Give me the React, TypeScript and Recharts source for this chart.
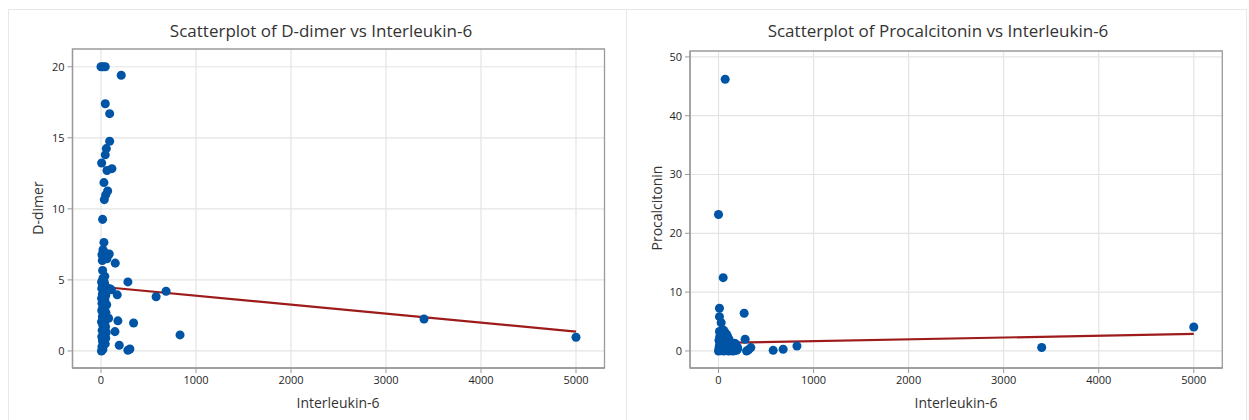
import React from 'react';
import { ScatterChart, Scatter, XAxis, YAxis, ZAxis, CartesianGrid, ReferenceLine, ReferenceArea } from 'recharts';

// ---- Data: D-dimer vs Interleukin-6 ----
const il6A = [
  0, 20, 45, 213, 45, 91, 91, 56, 45, 7, 63, 115, 31, 70, 49, 35, 17,
  31, 21, 10, 45, 87, 14, 63, 150, 17, 283, 171, 580, 685, 178, 343, 147, 832, 192, 283, 304, 98, 80, 3400, 5000,
  5, 20, 10, 30, 45, 15, 35, 50, 8, 25, 40, 55, 12, 30, 48, 18, 38, 5, 28, 60, 14, 42, 22, 52, 8, 34, 18, 46, 60, 10,
  28, 40, 6, 22, 50, 14, 32, 60, 75, 90, 8, 24, 44, 16, 36, 6, 28, 20, 40, 60, 110,
];
const dDimer = [
  20, 20, 20, 19.4, 17.4, 16.7, 14.76, 14.24, 13.8, 13.23, 12.7, 12.83, 11.85, 11.26, 10.98, 10.65, 9.26,
  7.64, 7.12, 6.77, 6.89, 6.82, 6.37, 6.49, 6.18, 5.66, 4.86, 3.95, 3.81, 4.2, 2.12, 1.97, 1.36, 1.13, 0.4, 0.05, 0.14, 4.35, 2.3, 2.25, 0.96,
  0.0, 0.1, 0.3, 0.45, 0.5, 0.7, 0.8, 0.9, 1.0, 1.1, 1.2, 1.3, 1.45, 1.6, 1.7, 1.85, 1.95, 2.05, 2.2, 2.3, 2.4, 2.5, 2.6, 2.7, 2.85, 2.95, 3.05, 3.15, 3.25, 3.35,
  3.5, 3.6, 3.7, 3.8, 3.9, 4.0, 4.1, 4.2, 4.3, 4.35, 4.4, 4.5, 4.6, 4.7, 4.8, 4.85, 4.95, 5.1, 5.25, 4.45, 4.3,
];
const fitXA = [0, 5000];
const fitYA = [4.52, 1.36];

// ---- Data: Procalcitonin vs Interleukin-6 ----
const il6B = [
  70, 0, 49, 10, 10, 28, 270, 280, 575, 680, 825, 340, 295, 316, 3400, 5000, 165, 200,
  0, 10, 25, 40, 55, 70, 90, 110, 130, 150, 170, 190, 5, 20, 35, 60, 80, 100, 120, 160, 200, 8, 30, 50, 75, 95, 140, 180,
  15, 40, 65, 90, 120, 5, 25, 50, 80, 110, 12, 35, 60, 95, 20, 45, 70, 30, 55, 10, 85,
];
const procalcitonin = [
  46.2, 23.2, 12.46, 7.25, 5.83, 4.8, 6.4, 1.98, 0.1, 0.29, 0.85, 0.57, 0.0, 0.2, 0.58, 4.07, 1.3, 0.6,
  0, 0.1, 0.05, 0.2, 0, 0.1, 0.05, 0, 0.1, 0, 0.05, 0.1, 0.4, 0.5, 0.3, 0.45, 0.6, 0.4, 0.5, 0.35, 0.3, 0.8, 0.9, 1.0, 0.85, 1.1, 0.8, 1.2,
  1.3, 1.4, 1.5, 1.6, 1.3, 1.8, 1.9, 2.0, 2.1, 2.0, 2.4, 2.5, 2.6, 2.5, 2.9, 3.0, 3.1, 3.4, 3.5, 3.3, 2.8,
];
const fitXB = [0, 5000];
const fitYB = [1.36, 2.9];

const xTicks = [0, 1000, 2000, 3000, 4000, 5000];
const yTicksA = [0, 5, 10, 15, 20];
const yTicksB = [0, 10, 20, 30, 40, 50];
const xDomain: [number, number] = [-300, 5300];

const dataA = il6A.map((x, i) => ({ x, y: dDimer[i] }));
const dataB = il6B.map((x, i) => ({ x, y: procalcitonin[i] }));

const FONT = '"Open Sans", "Noto Sans", sans-serif';
const TEXT = '#333333';
const AXIS = '#9a9a9a';
const GRID = '#e4e4e4';
const DOT = '#0054a6';
const FIT = '#9e1b1b';

type PanelProps = {
  left: number;
  width: number;
  margin: { top: number; right: number; bottom: number; left: number };
  data: { x: number; y: number }[];
  yDomain: [number, number];
  yTicks: number[];
  fitX: number[];
  fitY: number[];
};

function Panel({ left, width, margin, data, yDomain, yTicks, fitX, fitY }: PanelProps) {
  const tick = { fill: '#262626', fontSize: 11, fontFamily: FONT };
  return (
    <div style={{ position: 'absolute', left, top: 0 }}>
      <ScatterChart width={width} height={420} margin={margin}>
        <CartesianGrid stroke={GRID} strokeWidth={1.2} horizontalValues={yTicks} verticalValues={xTicks} />
        <XAxis
          type="number"
          dataKey="x"
          domain={xDomain}
          ticks={xTicks}
          allowDataOverflow
          height={30}
          tick={tick}
          tickLine={{ stroke: AXIS }}
          axisLine={{ stroke: AXIS, strokeWidth: 1.3 }}
          tickSize={5}
          tickMargin={3}
        />
        <YAxis
          type="number"
          dataKey="y"
          domain={yDomain}
          ticks={yTicks}
          allowDataOverflow
          width={50}
          tick={tick}
          tickLine={{ stroke: AXIS }}
          axisLine={{ stroke: AXIS, strokeWidth: 1.3 }}
          tickSize={5}
          tickMargin={3}
        />
        <ZAxis range={[46, 46]} />
        <ReferenceArea
          x1={xDomain[0]}
          x2={xDomain[1]}
          y1={yDomain[0]}
          y2={yDomain[1]}
          fill="none"
          fillOpacity={0}
          stroke={AXIS}
          strokeWidth={1.3}
          ifOverflow="visible"
        />
        <ReferenceLine
          segment={[{ x: fitX[0], y: fitY[0] }, { x: fitX[1], y: fitY[1] }]}
          stroke={FIT}
          strokeWidth={2.2}
          ifOverflow="visible"
        />
        <Scatter data={data} fill={DOT} isAnimationActive={false} />
      </ScatterChart>
    </div>
  );
}

const textBase: React.CSSProperties = {
  position: 'absolute',
  fontFamily: FONT,
  color: TEXT,
  whiteSpace: 'nowrap',
  textAlign: 'center',
};

export default function App() {
  return (
    <div style={{ position: 'absolute', left: 0, top: 0, width: 1249, height: 420, background: '#ffffff', overflow: 'hidden' }}>
      {/* card borders */}
      <div style={{ position: 'absolute', left: 8, top: 9, width: 1239, height: 1, background: '#e8e8e8' }} />
      <div style={{ position: 'absolute', left: 8, top: 9, width: 1, height: 411, background: '#e8e8e8' }} />
      <div style={{ position: 'absolute', left: 626, top: 9, width: 1, height: 411, background: '#e8e8e8' }} />
      <div style={{ position: 'absolute', left: 1246, top: 9, width: 1, height: 411, background: '#e8e8e8' }} />

      <Panel
        left={0}
        width={620}
        margin={{ top: 49, right: 15.5, bottom: 22, left: 22.5 }}
        data={dataA}
        yDomain={[-1.2, 21.25]}
        yTicks={yTicksA}
        fitX={fitXA}
        fitY={fitYA}
      />
      <Panel
        left={620}
        width={629}
        margin={{ top: 51, right: 26.7, bottom: 22, left: 20 }}
        data={dataB}
        yDomain={[-2.9, 51]}
        yTicks={yTicksB}
        fitX={fitXB}
        fitY={fitYB}
      />

      {/* titles */}
      <div style={{ ...textBase, left: 121, top: 19, width: 400, fontSize: 17, fontWeight: 500, lineHeight: '24px', color: '#333333' }}>
        Scatterplot of D-dimer vs Interleukin-6
      </div>
      <div style={{ ...textBase, left: 738, top: 19, width: 400, fontSize: 17, fontWeight: 500, lineHeight: '24px', color: '#333333' }}>
        Scatterplot of Procalcitonin vs Interleukin-6
      </div>

      {/* x labels */}
      <div style={{ ...textBase, left: 238, top: 393, width: 200, fontSize: 14, lineHeight: '20px' }}>Interleukin-6</div>
      <div style={{ ...textBase, left: 856, top: 393, width: 200, fontSize: 14, lineHeight: '20px' }}>Interleukin-6</div>

      {/* y labels */}
      <div style={{ ...textBase, left: 38 - 100, top: 208 - 10, width: 200, fontSize: 14, lineHeight: '20px', transform: 'rotate(-90deg)' }}>D-dimer</div>
      <div style={{ ...textBase, left: 657 - 100, top: 208 - 10, width: 200, fontSize: 14, lineHeight: '20px', transform: 'rotate(-90deg)' }}>Procalcitonin</div>
    </div>
  );
}
